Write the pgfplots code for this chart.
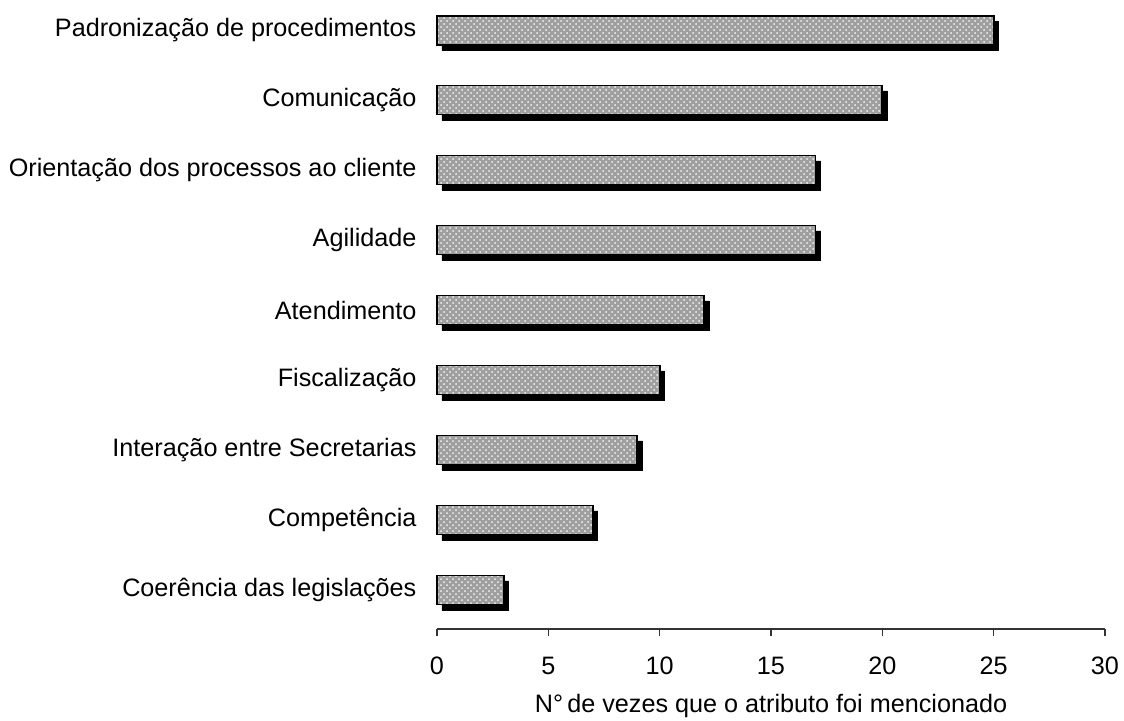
\documentclass[border=0pt]{standalone}
\usepackage{fontspec}
\setmainfont{Liberation Sans}
\usepackage{pgfplots}
\pgfplotsset{compat=1.18}
\usetikzlibrary{patterns}
\begin{document}
\begin{tikzpicture}
\useasboundingbox (-218.5pt,-45.5pt) rectangle (343.5pt,314.5pt);
\begin{axis}[
  scale only axis,
  width=334pt, height=314.5pt,
  xmin=0, xmax=30, ymin=-0.557, ymax=8.43,
  xtick={0,5,...,30},
  ytick={0,...,8},
  yticklabels={Coerência das legislações,Competência,Interação entre Secretarias,Fiscalização,Atendimento,Agilidade,Orientação dos processos ao cliente,Comunicação,Padronização de procedimentos},
  axis x line*=bottom,
  axis y line=left,
  y axis line style={draw=none},
  ytick style={draw=none},
  xtick align=outside,
  major tick length=3.5pt,
  x axis line style={-, black!80, line width=0.6pt},
  xtick style={black!80, line width=0.6pt},
  /pgf/number format/assume math mode=true,
  tick label style={font=\fontsize{12.6}{14}\selectfont},
  xticklabel style={yshift=-7pt},
  yticklabel style={xshift=-5pt},
  xlabel={N°\,de vezes que o atributo foi mencionado},
  xlabel style={font=\fontsize{12.6}{14}\selectfont, yshift=-3pt},
  clip=false,
]
\addplot[xbar, bar width=14.5pt, bar shift=0pt, fill=black, draw=black, xshift=2.5pt, yshift=-2.7pt]
  coordinates {(3,0) (7,1) (9,2) (10,3) (12,4) (17,5) (17,6) (20,7) (25,8)};
\addplot[xbar, bar width=14.5pt, bar shift=0pt, fill=gray!75, draw=black, line width=0.9pt,
  postaction={pattern=crosshatch dots, pattern color=white!90!gray}]
  coordinates {(3,0) (7,1) (9,2) (10,3) (12,4) (17,5) (17,6) (20,7) (25,8)};
\end{axis}
\end{tikzpicture}
\end{document}
